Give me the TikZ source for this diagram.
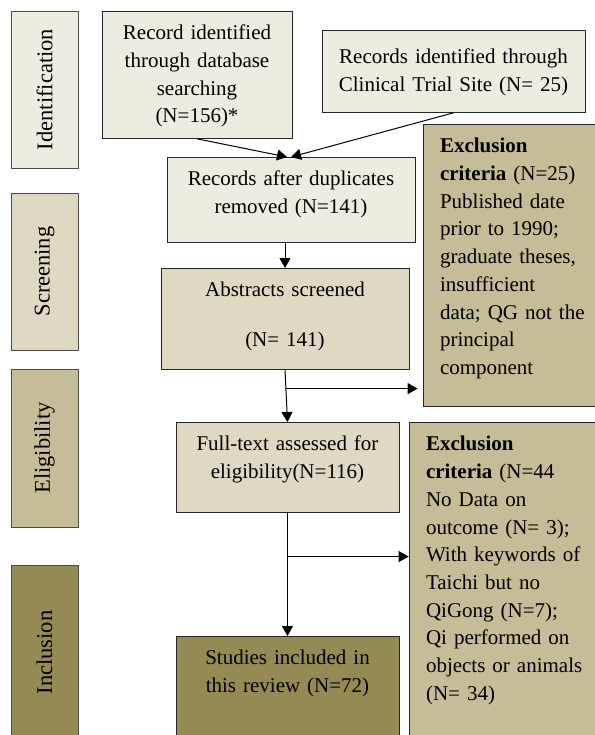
\documentclass[tikz,border=0pt]{standalone}
\usepackage{fontspec}
\setmainfont{Liberation Serif}
\usetikzlibrary{arrows.meta,calc}

\definecolor{tanA}{HTML}{EEECE1}
\definecolor{tanB}{HTML}{DDD9C3}
\definecolor{tanC}{HTML}{C4BD97}
\definecolor{tanD}{HTML}{948A54}
\newcommand{\boxfont}{\fontsize{21pt}{27.7pt}\selectfont\frenchspacing}
\newcommand{\stagefont}{\fontsize{22.5pt}{27pt}\selectfont}

\begin{document}
\begin{tikzpicture}[x=1pt,y=-1pt,->,>={Triangle[length=10pt,width=11pt]},line width=1pt,
    box/.style={draw=black!85,line width=0.8pt,anchor=north,align=center,inner xsep=6pt,inner ysep=13.5pt,text height=15pt,font=\boxfont},
    exbox/.style={box,align=left,inner xsep=17pt,fill=tanC},
    stage/.style={draw=black!70,line width=0.8pt,rotate=90,minimum height=67pt,inner sep=0pt,font=\stagefont}]
    \useasboundingbox (0,0) rectangle (594,735);

    % stages
    \node [stage,fill=tanA,minimum width=157pt] at (44.5,89.5)  (ident)  {Identification};
    \node [stage,fill=tanB,minimum width=157pt] at (44.5,271.5) (screen) {Screening};
    \node [stage,fill=tanC,minimum width=158pt] at (44.5,448)   (elig)   {Eligibility};
    \node [stage,fill=tanD,minimum width=175pt] at (44.5,652.5) (incl)   {Inclusion};

    % flow boxes
    \node [box,fill=tanA,text width=178pt,text depth=85pt] at (197,11)    (dbase)    {Record identified\\through database\\searching\\(N=156)*};
    \node [box,fill=tanA,text width=251pt,text height=19.5pt,text depth=35.5pt] at (453.5,30) (trial) {Records identified through\\Clinical Trial Site (N= 25)};
    \node [box,fill=tanA,text width=236pt,text depth=43pt] at (291,157)   (dedup)    {Records after duplicates\\removed (N=141)};
    \node [box,fill=tanB,text width=236pt,text depth=59pt] at (285,268)   (screened) {Abstracts screened\\[22.3pt](N= 141)};
    \node [box,fill=tanB,text width=211pt,text depth=48pt] at (287.5,422) (fulltext) {Full-text assessed for\\eligibility(N=116)};
    \node [box,fill=tanD,text width=211pt,text depth=67pt] at (287.5,636) (included) {Studies included in\\this review (N=72)};

    % exclusions
    \node [exbox,text width=146pt,text depth=240pt] at (513,124) (excl1)
        {\textbf{Exclusion}\\\textbf{criteria} (N=25)\\Published date\\prior to 1990;\\graduate theses,\\insufficient\\data; QG not the\\principal\\component};
    \node [exbox,text width=160pt,text depth=281pt] at (506,422) (excl2)
        {\textbf{Exclusion}\\\textbf{criteria} (N=44\\No Data on\\outcome (N= 3);\\With keywords of\\Taichi but no\\QiGong (N=7);\\Qi performed on\\objects or animals\\(N= 34)};

    % arrows
    \path (dbase.south) edge ([xshift=-4pt]dedup.north)
          (trial.south) edge (dedup.north)
          (screened.north |- dedup.south) edge (screened.north)
          (screened.south) edge (fulltext.north)
          (fulltext.south) edge (included.north);
    \coordinate (split1) at ($(screened.south)!0.36!(fulltext.north)$);
    \coordinate (split2) at ($(fulltext.south)!0.355!(included.north)$);
    \path (split1) edge [shorten >=5pt] (split1 -| excl1.west)
          (split2) edge (split2 -| excl2.west);
\end{tikzpicture}
\end{document}
